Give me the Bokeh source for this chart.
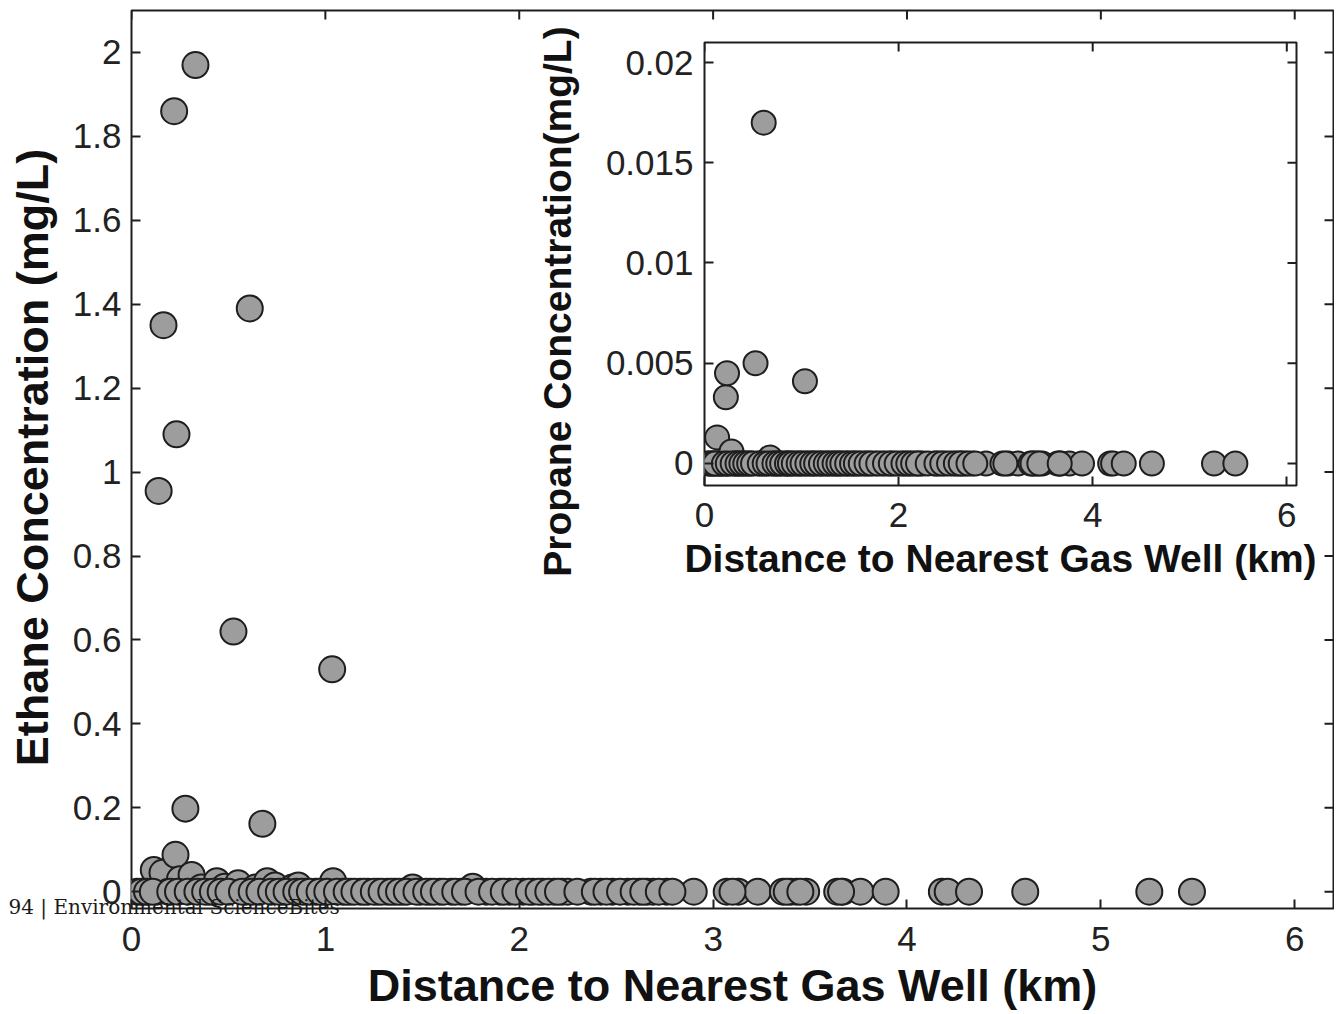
import math
from bokeh.plotting import figure
from bokeh.models import (FixedTicker, CustomJSTickFormatter, Range1d, GridBox, ColumnDataSource)
from bokeh.core.properties import value
from bokeh.embed import file_html
from bokeh.resources import INLINE

# ---------------- data ----------------
# samples with a measurable concentration
distance_km = [0.03, 0.06, 0.09, 0.115, 0.13, 0.14, 0.16, 0.165, 0.19, 0.22,
               0.227, 0.232, 0.25, 0.278, 0.31, 0.33, 0.36, 0.40, 0.44, 0.48,
               0.526, 0.55, 0.59, 0.61, 0.64, 0.675, 0.70, 0.74, 0.78, 0.83,
               0.86, 0.90, 0.95, 0.99, 1.035, 1.04, 1.09, 1.13, 1.18, 1.22,
               1.27, 1.32, 1.36, 1.40, 1.45, 1.49, 1.54, 1.59, 1.65, 1.70,
               1.76, 1.83, 1.90, 1.95, 2.02, 2.07, 2.12, 2.18, 2.22, 2.25,
               2.37, 2.42, 2.48, 2.56, 2.62, 2.66, 2.69, 2.76, 2.90, 3.07,
               3.13, 3.23, 3.36, 3.40, 3.43, 3.48, 3.64, 3.67, 3.76, 3.89,
               4.18, 4.21, 4.32, 4.61, 5.25, 5.47]
ethane_mg_l = [0, 0, 0, 0.052, 0, 0.955, 0.045, 1.35, 0, 1.86,
               0.088, 1.09, 0.03, 0.198, 0.04, 1.97, 0.01, 0, 0.025, 0.012,
               0.62, 0.02, 0, 1.39, 0.01, 0.162, 0.025, 0.015, 0, 0.01,
               0.015, 0, 0, 0, 0.53, 0.025, 0, 0, 0, 0,
               0, 0, 0, 0, 0.01, 0, 0, 0, 0, 0,
               0.012, 0, 0, 0, 0, 0, 0, 0, 0, 0,
               0, 0, 0, 0, 0, 0, 0, 0, 0, 0,
               0, 0, 0, 0, 0, 0, 0, 0, 0, 0,
               0, 0, 0, 0, 0, 0]
propane_mg_l = [0, 0, 0, 0, 0.0013, 0, 0, 0, 0, 0.0033,
                0, 0.0045, 0, 0.0006, 0, 0, 0, 0, 0, 0,
                0.005, 0, 0, 0.017, 0, 0.0003, 0, 0, 0, 0,
                0, 0, 0, 0, 0.0041, 0, 0, 0, 0, 0,
                0, 0, 0, 0, 0, 0, 0, 0, 0, 0,
                0, 0, 0, 0, 0, 0, 0, 0, 0, 0,
                0, 0, 0, 0, 0, 0, 0, 0, 0, 0,
                0, 0, 0, 0, 0, 0, 0, 0, 0, 0,
                0, 0, 0, 0, 0, 0]
# further wells where neither gas was detected (0 mg/L)
nondetect_km = [0.05, 0.08, 0.11, 0.20, 0.24, 0.29, 0.34, 0.38, 0.42, 0.46,
                0.50, 0.57, 0.62, 0.66, 0.72, 0.76, 0.80, 0.85, 0.88, 0.92,
                0.97, 1.01, 1.06, 1.11, 1.15, 1.20, 1.25, 1.29, 1.34, 1.38,
                1.42, 1.47, 1.52, 1.56, 1.61, 1.67, 1.72, 1.79, 1.86, 1.92,
                1.98, 2.05, 2.10, 2.15, 2.20, 2.30, 2.39, 2.45, 2.52, 2.59,
                2.64, 2.72, 2.79, 3.10, 3.38, 3.45, 3.66]
nondetect_mg_l = [0] * len(nondetect_km)

main_x_ticks = [0, 1, 2, 3, 4, 5, 6]
main_y_ticks = [0, 0.2, 0.4, 0.6, 0.8, 1, 1.2, 1.4, 1.6, 1.8, 2]
inset_x_ticks = [0, 2, 4, 6]
inset_y_ticks = [0, 0.005, 0.01, 0.015, 0.02]

x_title = "Distance to Nearest Gas Well (km)"
main_y_title = "Ethane Concentration (mg/L)"
inset_y_title = "Propane Concentration(mg/L)"
footer_text = "94 | Environmental ScienceBites"

# ---------------- layout (canvas pixels) ----------------
W, H = 1334, 1012
MAIN = dict(left=131, right=1333, top=10, bottom=908)
INSET = dict(left=704, right=1296, top=42, bottom=485)

# ---------------- style ----------------
FONT = "Liberation Sans"
INK = "#1e1e1e"
FILL = "#9d9d9d"
TICK_FS = "35px"

source = ColumnDataSource(dict(d=distance_km + nondetect_km,
                               e=ethane_mg_l + nondetect_mg_l,
                               p=propane_mg_l + nondetect_mg_l))


def style_axis(ax, ticks, standoff):
    ax.ticker = FixedTicker(ticks=ticks)
    ax.formatter = CustomJSTickFormatter(code="return tick.toString();")
    ax.axis_line_color = None
    ax.major_tick_line_color = INK
    ax.major_tick_line_width = 2
    ax.major_tick_in = 9
    ax.major_tick_out = 0
    ax.minor_tick_line_color = None
    ax.major_label_text_font = FONT
    ax.major_label_text_color = "#222222"
    ax.major_label_text_font_size = TICK_FS
    ax.major_label_standoff = standoff


def box_ticks(fig, xticks, yticks):
    """inward ticks on the top and right frame edges (half of each dash is clipped)"""
    xr, yr = fig.x_range, fig.y_range
    fig.scatter(xticks, [yr.end] * len(xticks), marker="dash", angle=math.pi / 2,
                size=18, line_color=INK, line_width=2)
    fig.scatter([xr.end] * len(yticks), yticks, marker="dash",
                size=18, line_color=INK, line_width=2)


def make_plot(frame, width, height, xr, yr):
    f = figure(width=width, height=height, x_range=xr, y_range=yr,
               output_backend="svg", toolbar_location=None, frame_align=False,
               min_border_left=frame["left"], min_border_top=frame["top"],
               min_border_right=width - frame["right"],
               min_border_bottom=height - frame["bottom"])
    f.grid.visible = False
    f.outline_line_color = INK
    f.outline_line_width = 2
    f.background_fill_color = "white"
    return f


# ---------------- main figure ----------------
p = make_plot(MAIN, W, H, Range1d(0, 6.2), Range1d(-0.04, 2.1))
p.border_fill_color = "white"
style_axis(p.xaxis[0], main_x_ticks, 18)
style_axis(p.yaxis[0], main_y_ticks, 10)
p.scatter("d", "e", source=source, size=26, marker="circle",
          fill_color=FILL, line_color=INK, line_width=2)
box_ticks(p, main_x_ticks, main_y_ticks)

# ---------------- inset figure ----------------
q = make_plot(INSET, INSET["right"] + 22, INSET["bottom"] + 97,
              Range1d(0, 6.1), Range1d(-0.0011, 0.021))
q.border_fill_alpha = 0
style_axis(q.xaxis[0], inset_x_ticks, 17)
style_axis(q.yaxis[0], inset_y_ticks, 11)
q.scatter("d", "p", source=source, size=24, marker="circle",
          fill_color=FILL, line_color=INK, line_width=2)
box_ticks(q, inset_x_ticks, inset_y_ticks)

# ---------------- titles / captions (overlay in canvas pixels) ----------------
t = figure(width=W, height=H, x_range=Range1d(0, W), y_range=Range1d(H, 0),
           output_backend="svg", toolbar_location=None, min_border=0, frame_align=False,
           x_axis_type=None, y_axis_type=None)
t.outline_line_color = None
t.background_fill_alpha = 0
t.border_fill_alpha = 0


def title(x, y, text, size, angle=0.0, bold=True, font=FONT, align="center",
          color="#111111"):
    t.text(x=[x], y=[y], text=[text], angle=angle,
           text_font=value(font), text_font_style=value("bold" if bold else "normal"),
           text_font_size=value(size), text_color=color,
           text_align=align, text_baseline="middle")


title((MAIN["left"] + MAIN["right"]) / 2, MAIN["bottom"] + 77, x_title, "45px")
title(MAIN["left"] - 99, (MAIN["top"] + MAIN["bottom"]) / 2 - 2, main_y_title, "45px",
      angle=math.pi / 2)
title((INSET["left"] + INSET["right"]) / 2, INSET["bottom"] + 73, x_title, "39px")
title(INSET["left"] - 147, INSET["top"] + 259, inset_y_title, "39px", angle=math.pi / 2)
title(MAIN["left"] - 123, MAIN["bottom"] - 2, footer_text, "20px", bold=False,
      font="DejaVu Serif", align="left", color="#1a1a1a")

layout = GridBox(children=[(p, 0, 0), (q, 0, 0), (t, 0, 0)])

open("out.html", "w").write(file_html(layout, INLINE))
